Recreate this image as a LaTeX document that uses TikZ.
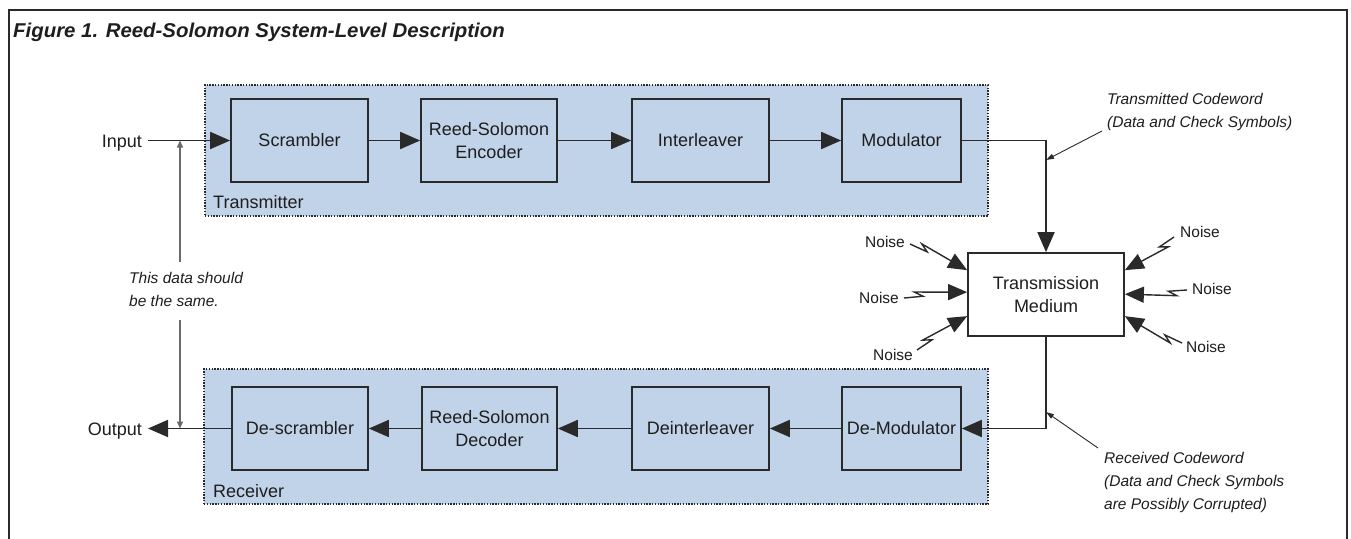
\documentclass[tikz,border=0pt]{standalone}
\usepackage{fontspec}
\setmainfont{Liberation Sans}
\usetikzlibrary{arrows.meta,calc}

\definecolor{ink}{HTML}{1E1E1E}
\definecolor{linec}{HTML}{2A2A2A}
\definecolor{panel}{HTML}{C1D3E8}
\definecolor{guide}{HTML}{6A6A6A}

\newcommand\blkfont{\fontsize{18}{23.5}\selectfont}
\newcommand\notefont{\fontsize{15.5}{23}\selectfont\itshape}
\newcommand\noisefont{\fontsize{15.5}{18}\selectfont}
\newcommand\titlefont{\fontsize{20}{24}\selectfont\bfseries\itshape}

% lightning-style noise arrow from a start point to a tip on the medium box
\newcommand\zap[2]{\draw[noisearr] (#1) -- ($(#1)!0.3!(#2)$) -- ($(#1)!0.17!(#2)!5pt!90:(#2)$) -- (#2);}

\begin{document}
\begin{tikzpicture}[x=1pt,y=-1pt,
  blk/.style={draw=linec, line width=1.7pt, fill=panel, minimum height=83pt,
    inner sep=0pt, align=center, font=\blkfont, text=ink},
  grp/.style={draw=linec, line width=1.2pt, dash pattern=on 1.4pt off 1.4pt,
    fill=panel, inner sep=0pt},
  flow/.style={draw=linec, line width=1.8pt, -{Triangle[length=20pt,width=17pt]}},
  noisearr/.style={draw=linec, line width=1.4pt, -{Triangle[length=19pt,width=16pt]}},
  note/.style={draw=linec, line width=0.9pt, -{Triangle[length=8pt,width=5pt]}},
  same/.style={draw=guide, line width=1.5pt, -{Triangle[length=7pt,width=6pt]}},
  lbl/.style={font=\blkfont, text=ink, text height=13pt, text depth=0pt, inner ysep=0pt},
  noiselbl/.style={font=\noisefont, text=ink, inner sep=0pt},
  notetxt/.style={font=\notefont, text=ink, align=left, inner sep=0pt, anchor=north west}]

\useasboundingbox (0,0) rectangle (1351,538);
\fill[white] (0,0) rectangle (1351,538);

% outer frame and title
\draw[linec, line width=1.6pt] (9,540) -- (9,10) -- (1347,10) -- (1347,540);
\node[anchor=base west, inner sep=0pt, font=\titlefont, text=ink, xscale=1.02]
  (title) at (13,37) {Figure 1. Reed-Solomon System-Level Description};

% transmitter and receiver panels
\node[grp, minimum width=783pt, minimum height=131pt] (txp) at (596.5,150.5) {};
\node[grp, minimum width=784pt, minimum height=135pt] (rxp) at (596,436.5) {};
\node[anchor=base west, inner sep=0pt, font=\blkfont, text=ink] (txlbl) at (213,208) {Transmitter};
\node[anchor=base west, inner sep=0pt, font=\blkfont, text=ink] (rxlbl) at (213,497) {Receiver};

% transmit chain
\node[blk, minimum width=137pt] (scr) at (299.5,140.5) {Scrambler};
\node[blk, minimum width=136pt] (enc) at (489,140.5) {Reed-Solomon\\Encoder};
\node[blk, minimum width=137pt] (ilv) at (700.5,140.5) {Interleaver};
\node[blk, minimum width=119pt] (mod) at (901.5,140.5) {Modulator};

% receive chain
\node[blk, minimum width=136pt] (dsc) at (300,428.5) {De-scrambler};
\node[blk, minimum width=135pt] (dec) at (489.5,428.5) {Reed-Solomon\\Decoder};
\node[blk, minimum width=137pt] (dil) at (700.5,428.5) {Deinterleaver};
\node[blk, minimum width=119pt] (dmd) at (901.5,428.5) {De-Modulator};

% channel
\node[blk, fill=white, minimum width=156pt] (tm) at (1046,294.5) {Transmission\\Medium};

% input / output
\node[lbl, inner xsep=6pt, anchor=east] (in) at (148,140.5) {Input};
\node[lbl, inner xsep=6pt, anchor=east] (out) at (148,428.5) {Output};

% data flow
\draw[flow] (in.east) -- (scr.west);
\draw[flow] (scr.east) -- (enc.west);
\draw[flow] (enc.east) -- (ilv.west);
\draw[flow] (ilv.east) -- (mod.west);
\draw[flow] (mod.east) -| (tm.north);
\draw[flow] (tm.south) |- (dmd.east);
\draw[flow] (dmd.west) -- (dil.east);
\draw[flow] (dil.west) -- (dec.east);
\draw[flow] (dec.west) -- (dsc.east);
\draw[flow] (dsc.west) -- (out.east);

% comparison of input and output data
\node[notetxt] (samenote) at (129,271.7) {This data should\\be the same.};
\coordinate (sd1) at (180,262);
\coordinate (sd2) at (180,320);
\draw[same] (sd1) -- (sd1 |- scr.west);
\draw[same] (sd2) -- (sd2 |- dsc.west);

% codeword annotations
\node[notetxt] (txnote) at (1107,92.7) {Transmitted Codeword\\(Data and Check Symbols)};
\node[notetxt] (rxnote) at (1104,451.7) {Received Codeword\\(Data and Check Symbols\\are Possibly Corrupted)};
\coordinate (txa) at (1102,131);
\coordinate (txb) at (1046,160);
\coordinate (rxa) at (1098,448);
\coordinate (rxb) at (1046,412);
\draw[note] (txa) -- (txb);
\draw[note] (rxa) -- (rxb);

% noise sources
\node[noiselbl] (n1) at (885,242) {Noise};
\node[noiselbl] (n2) at (879,298) {Noise};
\node[noiselbl] (n3) at (893,355) {Noise};
\node[noiselbl] (n4) at (1200,232) {Noise};
\node[noiselbl] (n5) at (1212,289) {Noise};
\node[noiselbl] (n6) at (1206,347) {Noise};
\coordinate (s1) at (910,244);
\coordinate (s2) at (904,298);
\coordinate (s3) at (917,350);
\coordinate (s4) at (1174,237);
\coordinate (s5) at (1187,290);
\coordinate (s6) at (1182,343);
\coordinate (t1) at ($(tm.north west)+(0,18)$);
\coordinate (t2) at ($(tm.north west)+(0,40)$);
\coordinate (t3) at ($(tm.north west)+(0,64)$);
\coordinate (t4) at ($(tm.north east)+(0,18)$);
\coordinate (t5) at ($(tm.north east)+(0,42)$);
\coordinate (t6) at ($(tm.north east)+(0,64)$);
\zap{s1}{t1}
\zap{s2}{t2}
\zap{s3}{t3}
\zap{s4}{t4}
\zap{s5}{t5}
\zap{s6}{t6}

\end{tikzpicture}
\end{document}
